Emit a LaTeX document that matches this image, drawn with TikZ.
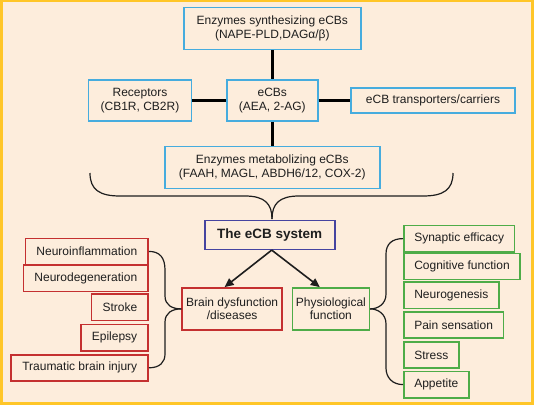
\documentclass[tikz,border=0pt]{standalone}
\usepackage{fontspec}
\setmainfont{Liberation Sans}
\usetikzlibrary{arrows.meta}
\definecolor{framegold}{RGB}{255,198,40}
\definecolor{paper}{RGB}{253,237,220}
\definecolor{boxblue}{RGB}{70,172,222}
\definecolor{boxred}{RGB}{196,48,48}
\definecolor{boxgreen}{RGB}{78,172,72}
\definecolor{boxpurple}{RGB}{70,68,160}
\definecolor{ink}{RGB}{30,30,30}

\begin{document}
\begin{tikzpicture}[x=1pt, y=-1pt,
    every node/.style = {shape=rectangle, draw, align=center, text=ink,
      line width=1.6pt, font=\fontsize{12}{13.5}\selectfont},
    bluebox/.style = {draw=boxblue, minimum height=42pt},
    redbox/.style = {draw=boxred, minimum height=26.2pt, inner xsep=11pt},
    greenbox/.style = {draw=boxgreen, minimum height=26.2pt, inner xsep=10.5pt},
    bar/.style = {line width=3.2pt, black},
    curly/.style = {line width=1.2pt, ink},
    pointer/.style = {line width=1.6pt, ink, -{Triangle[length=9pt,width=8pt]}}]
  \useasboundingbox (0,0) rectangle (534,405);
  \fill[framegold] (0,0) rectangle (534,405);
  \fill[paper] (3,2) rectangle (531,402);

  \node[bluebox, minimum width=177pt] (synth) at (272.3,28.5)
    {Enzymes synthesizing eCBs\\(NAPE-PLD,DAGα/β)};
  \node[bluebox, minimum width=103pt, minimum height=41pt] (receptors) at (140,100.5)
    {Receptors\\(CB1R, CB2R)};
  \node[bluebox, minimum width=91pt, minimum height=41pt] (ecbs) at (272.3,100.5)
    {eCBs\\(AEA, 2-AG)};
  \node[bluebox, minimum width=164pt, minimum height=25.5pt] (transp) at (433,100.5)
    {eCB transporters/carriers};
  \node[bluebox, minimum width=215pt] (metab) at (272.3,167.5)
    {Enzymes metabolizing eCBs\\(FAAH, MAGL, ABDH6/12, COX-2)};
  \node[draw=boxpurple, minimum width=130pt, minimum height=29pt,
    font=\fontsize{13.5}{15}\selectfont\bfseries] (system) at (269.7,234.8) {The eCB system};
  \node[draw=boxred, minimum width=100pt, minimum height=42pt] (brain) at (232.1,308.9)
    {Brain dysfunction\\/diseases};
  \node[draw=boxgreen, minimum width=77pt, minimum height=42pt] (phys) at (330.9,308.9)
    {Physiological\\function};

  \node[redbox, anchor=east] (inflam) at (149,251.4) {Neuroinflammation};
  \node[redbox, anchor=east] (degen) at (149,278.2) {Neurodegeneration};
  \node[redbox, anchor=east] (stroke) at (149,307.3) {Stroke};
  \node[redbox, anchor=east] (epilepsy) at (149,337.7) {Epilepsy};
  \node[redbox, anchor=east] (tbi) at (149,367.8) {Traumatic brain injury};

  \node[greenbox, anchor=west] (synaptic) at (403,238.6) {Synaptic efficacy};
  \node[greenbox, anchor=west] (cognitive) at (403,266.5) {Cognitive function};
  \node[greenbox, anchor=west] (neurogen) at (403,295.3) {Neurogenesis};
  \node[greenbox, anchor=west] (pain) at (403,325) {Pain sensation};
  \node[greenbox, anchor=west] (stress) at (403,354.9) {Stress};
  \node[greenbox, anchor=west] (appetite) at (403,384.6) {Appetite};

  \draw[bar] (synth) -- (ecbs);
  \draw[bar] (receptors) -- (ecbs);
  \draw[bar] (ecbs) -- (transp);
  \draw[bar] (ecbs) -- (metab);

  \coordinate (braceL) at (90,173);
  \coordinate (braceR) at (453,173);
  \coordinate (bracetip) at (272,219);
  \draw[curly] (braceL) .. controls (90,190) and (100,196) .. (120,196) -- (245,196)
    .. controls (265,196) and (272,204) .. (bracetip);
  \draw[curly] (braceR) .. controls (453,190) and (443,196) .. (423,196) -- (299,196)
    .. controls (279,196) and (272,204) .. (bracetip);

  \draw[pointer] ([xshift=2pt]system.south) -- (brain.109);
  \draw[pointer] ([xshift=2pt]system.south) -- (phys.117);

  \draw[curly] (inflam.east) .. controls (160,251.4) and (165,258) .. (165,270) -- (165,296)
    .. controls (165,305) and (172,308.9) .. (brain.west);
  \draw[curly] (brain.west) .. controls (172,308.9) and (165,313) .. (165,322) -- (165,354)
    .. controls (165,362) and (160,367.8) .. (tbi.east);
  \draw[curly] (synaptic.west) .. controls (392,238.6) and (386,244) .. (386,254) -- (386,294)
    .. controls (386,304) and (378,308.9) .. (phys.east);
  \draw[curly] (phys.east) .. controls (378,308.9) and (386,314) .. (386,324) -- (386,368)
    .. controls (386,377) and (392,384.6) .. (appetite.west);
\end{tikzpicture}
\end{document}
